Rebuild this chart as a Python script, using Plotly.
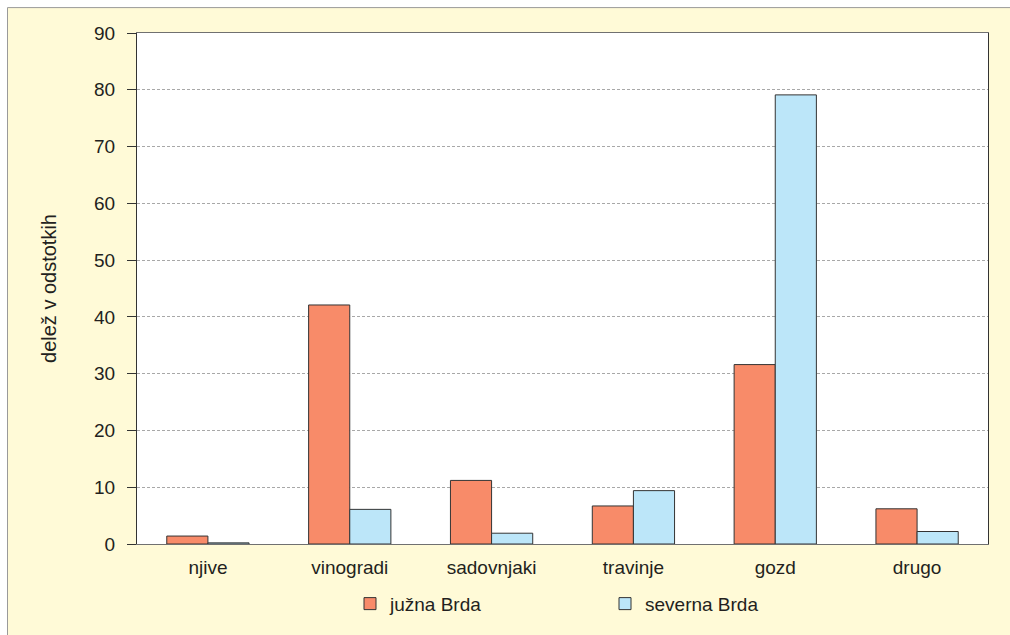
import plotly.graph_objects as go

categories = ["njive", "vinogradi", "sadovnjaki", "travinje", "gozd", "drugo"]
juzna = [1.4, 42.1, 11.2, 6.7, 31.6, 6.2]
severna = [0.2, 6.1, 1.9, 9.4, 79.1, 2.2]
series_names = ["južna Brda", "severna Brda"]
y_ticks = [0, 10, 20, 30, 40, 50, 60, 70, 80, 90]

W, H = 1010, 635
L, T = 137, 33
pw, ph = 851, 513
R = W - L - pw
B = H - T - ph

font = dict(family="Liberation Sans, Arial, sans-serif", size=19, color="#231f20")

fig = go.Figure()
fig.add_trace(go.Bar(x=categories, y=juzna, name=series_names[0],
                     marker=dict(color="#F88B69", line=dict(color="#333333", width=1))))
fig.add_trace(go.Bar(x=categories, y=severna, name=series_names[1],
                     marker=dict(color="#BCE6F9", line=dict(color="#333333", width=1))))

# outer frame: white strip on the top/left edge, grey line at 7px
fx0 = (7.5 - L) / pw
fy1 = 1 + (T - 7.5) / ph
fig.add_shape(type="rect", xref="paper", yref="paper", x0=-1.0, x1=1.5, y0=fy1, y1=1.5,
              fillcolor="white", line=dict(width=0), layer="below")
fig.add_shape(type="rect", xref="paper", yref="paper", x0=-1.0, x1=fx0, y0=-1.0, y1=1.5,
              fillcolor="white", line=dict(width=0), layer="below")
fig.add_shape(type="line", xref="paper", yref="paper", x0=fx0, x1=1.5, y0=fy1, y1=fy1,
              line=dict(color="#9a9a9a", width=1), layer="below")
fig.add_shape(type="line", xref="paper", yref="paper", x0=fx0, x1=fx0, y0=-1.0, y1=fy1,
              line=dict(color="#9a9a9a", width=1), layer="below")

fig.update_layout(
    width=W, height=H,
    margin=dict(l=L, r=R, t=T, b=B),
    paper_bgcolor="#FFFAD7", plot_bgcolor="white",
    font=font,
    barmode="group", bargap=0.42, bargroupgap=0,
    showlegend=True,
    legend=dict(orientation="h", x=(350 - L) / pw, xanchor="left",
                y=(546 - 606) / ph, yanchor="middle",
                entrywidth=210, entrywidthmode="pixels",
                bgcolor="rgba(0,0,0,0)", font=font),
    xaxis=dict(showline=True, linecolor="#707070", linewidth=1, mirror=True,
               ticks="", ticklabelstandoff=6, showgrid=False),
    yaxis=dict(range=[0, 90], tickvals=y_ticks, showline=True, linecolor="#333333",
               linewidth=1, mirror=True, ticks="outside", ticklen=9, tickcolor="#333333",
               ticklabelstandoff=8, tickfont=dict(size=19),
               showgrid=True, gridcolor="#a8a8a8", griddash="3px,2px", gridwidth=1,
               zeroline=False,
               title=dict(text="delež v odstotkih", standoff=32,
                          font=dict(family=font["family"], size=20, color=font["color"]))),
)

fig.write_html("out.html", config={"displayModeBar": False},
               post_script="document.body.style.margin='0';document.body.style.overflow='hidden';")
